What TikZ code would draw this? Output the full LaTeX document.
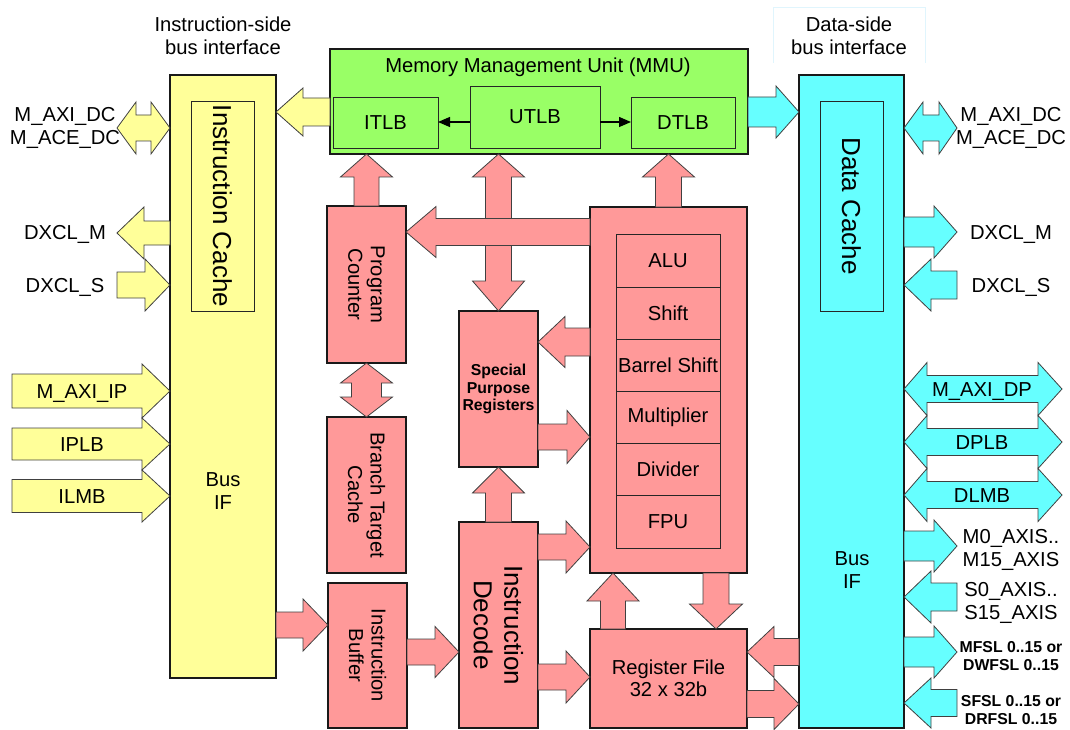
\documentclass[tikz,border=0pt]{standalone}
\usepackage{fontspec}
\setmainfont{Liberation Sans}
\usetikzlibrary{arrows.meta,calc}

\definecolor{yel}{HTML}{FFFF99}
\definecolor{grn}{HTML}{99FF66}
\definecolor{cyn}{HTML}{66FFFF}
\definecolor{pnk}{HTML}{FF9999}

% rectangular block given by its corners (x1,y1)-(x2,y2)
\newcommand\blk[7]{\node[#2, minimum width={(#5-#3)*1pt}, minimum height={(#6-#4)*1pt}] (#1) at ({(#3+#5)/2},{(#4+#6)/2}) {#7};}

% horizontal block arrow: style, tail, tip, direction (1 right, -1 left), head length, shaft half width, head half width
\newcommand\harrow[7]{\path[#1] let \p1=#2, \p2=#3 in
  (\x1,{\y2+#6pt}) -- ({\x2-(#4)*#5pt},{\y2+#6pt}) -- ({\x2-(#4)*#5pt},{\y2+#7pt}) -- (\x2,\y2)
  -- ({\x2-(#4)*#5pt},{\y2-#7pt}) -- ({\x2-(#4)*#5pt},{\y2-#6pt}) -- (\x1,{\y2-#6pt}) -- cycle;}

% horizontal double block arrow: style, left tip, right tip, left head length, right head length, shaft half, head half
\newcommand\dharrow[7]{\path[#1] let \p1=#2, \p2=#3 in
  (\x1,\y2) -- ({\x1+#4pt},{\y2+#7pt}) -- ({\x1+#4pt},{\y2+#6pt}) -- ({\x2-#5pt},{\y2+#6pt})
  -- ({\x2-#5pt},{\y2+#7pt}) -- (\x2,\y2) -- ({\x2-#5pt},{\y2-#7pt}) -- ({\x2-#5pt},{\y2-#6pt})
  -- ({\x1+#4pt},{\y2-#6pt}) -- ({\x1+#4pt},{\y2-#7pt}) -- cycle;}

% vertical block arrow: style, tail, tip, direction (1 up, -1 down), head length, shaft half, head half
\newcommand\varrow[7]{\path[#1] let \p1=#2, \p2=#3 in
  ({\x1+#6pt},\y1) -- ({\x1+#6pt},{\y2-(#4)*#5pt}) -- ({\x1+#7pt},{\y2-(#4)*#5pt}) -- (\x1,\y2)
  -- ({\x1-#7pt},{\y2-(#4)*#5pt}) -- ({\x1-#6pt},{\y2-(#4)*#5pt}) -- ({\x1-#6pt},\y1) -- cycle;}

% vertical double block arrow: style, top tip, bottom tip, top head length, bottom head length, shaft half, head half
\newcommand\dvarrow[7]{\path[#1] let \p1=#2, \p2=#3 in
  (\x1,\y1) -- ({\x1+#7pt},{\y1-#4pt}) -- ({\x1+#6pt},{\y1-#4pt}) -- ({\x1+#6pt},{\y2+#5pt})
  -- ({\x1+#7pt},{\y2+#5pt}) -- (\x1,\y2) -- ({\x1-#7pt},{\y2+#5pt}) -- ({\x1-#6pt},{\y2+#5pt})
  -- ({\x1-#6pt},{\y1-#4pt}) -- ({\x1-#7pt},{\y1-#4pt}) -- cycle;}

\tikzset{
  every node/.style={font=\fontsize{20.2}{22.5}\selectfont, inner sep=0pt, outer sep=0pt, align=center},
  bigbox/.style={draw=black!90, line width=1.8pt},
  thinbox/.style={draw=black!85, line width=0.9pt},
  lbl/.style={text height=14.5pt, text depth=0pt},
  bigtxt/.style={font=\fontsize{26}{30.5}\selectfont},
  smallbold/.style={font=\bfseries\fontsize{15.8}{17.5}\selectfont},
  ya/.style={fill=yel, draw=black!75, line width=0.8pt},
  ca/.style={fill=cyn, draw=black!75, line width=0.8pt},
  pa/.style={fill=pnk, draw=black!75, line width=0.8pt},
  tlbarrow/.style={draw=black, line width=1.3pt, -{Triangle[length=12pt,width=10pt]}},
}

\begin{document}
\begin{tikzpicture}[x=1pt, y=-1pt]
\useasboundingbox (0,0) rectangle (1070,730);

% ---------- instruction-side bus interface ----------
\node (isidelbl) at (223,36) {Instruction-side\\bus interface};
\blk{ibus}{bigbox,fill=yel}{170}{75}{276}{678}{}
\blk{icache}{thinbox,fill=yel}{191}{101}{254}{311}{}
\node[rotate=-90, bigtxt] (icachetxt) at (icache) {Instruction Cache};
\node (ibusif) at (223,491) {Bus\\IF};

% ---------- data-side bus interface ----------
\draw[cyan!12, line width=0.7pt] (773,63) -- (773,7) -- (925,7) -- (925,63);
\node (dsidelbl) at (849,36) {Data-side\\bus interface};
\blk{dbus}{bigbox,fill=cyn}{799}{75}{904}{728}{}
\blk{dcache}{thinbox,fill=cyn}{820}{101}{883}{311}{}
\node[rotate=-90, bigtxt] (dcachetxt) at (dcache) {Data Cache};
\node (dbusif) at (852,570) {Bus\\IF};

% ---------- memory management unit ----------
\blk{mmu}{bigbox,fill=grn}{330}{49}{748}{154}{}
\node (mmutitle) at (538,67) {Memory Management Unit (MMU)};
\blk{itlb}{thinbox,fill=grn}{333}{97}{438}{148}{ITLB}
\blk{utlb}{thinbox,fill=grn}{470}{86}{600}{148}{UTLB}
\blk{dtlb}{thinbox,fill=grn}{631}{97}{735}{148}{DTLB}
\draw[tlbarrow] (utlb.west |- 0,122) -- (itlb.east |- 0,122);
\draw[tlbarrow] (utlb.east |- 0,122) -- (dtlb.west |- 0,122);

% ---------- pipeline blocks ----------
\blk{pc}{bigbox,fill=pnk}{327}{206}{406}{363}{}
\node[rotate=-90] (pctxt) at (pc) {Program\\Counter};
\blk{btc}{bigbox,fill=pnk}{327}{417}{406}{573}{}
\node[rotate=-90] (btctxt) at (btc) {Branch Target\\Cache};
\blk{ib}{bigbox,fill=pnk}{328}{583}{407}{728}{}
\node[rotate=-90] (ibtxt) at (ib) {Instruction\\Buffer};
\blk{spr}{bigbox,fill=pnk,smallbold}{459}{311}{538}{467}{Special\\Purpose\\Registers}
\blk{id}{bigbox,fill=pnk}{459}{522}{538}{728}{}
\node[rotate=-90, bigtxt] (idtxt) at (id) {Instruction\\Decode};
\blk{exu}{bigbox,fill=pnk}{590}{207}{747}{573}{}
\blk{alu}{thinbox,fill=pnk}{616}{234}{720}{287}{ALU}
\blk{shift}{thinbox,fill=pnk}{616}{287}{720}{339}{Shift}
\blk{barrel}{thinbox,fill=pnk}{616}{339}{720}{391}{Barrel Shift}
\blk{mult}{thinbox,fill=pnk}{616}{391}{720}{443}{Multiplier}
\blk{divd}{thinbox,fill=pnk}{616}{443}{720}{495}{Divider}
\blk{fpu}{thinbox,fill=pnk}{616}{495}{720}{548}{FPU}
\blk{rf}{bigbox,fill=pnk}{590}{629}{747}{728}{Register File\\32 x 32b}

% ---------- instruction-side ports ----------
\harrow{ya}{(mmu.west |- 0,112)}{(ibus.east |- 0,112)}{-1}{27}{14}{24}
\coordinate (pAxiDcL) at (117,128);
\dharrow{ya}{(pAxiDcL)}{(ibus.west |- pAxiDcL)}{19}{19}{13}{26}
\coordinate (pDxclMi) at (117,233);
\harrow{ya}{(ibus.west |- pDxclMi)}{(pDxclMi)}{-1}{27}{12}{26}
\coordinate (pDxclSi) at (117,285);
\harrow{ya}{(pDxclSi)}{(ibus.west |- pDxclSi)}{1}{25}{13}{26}
\coordinate (pAxiIp) at (12,391);
\harrow{ya}{(pAxiIp)}{(ibus.west |- pAxiIp)}{1}{28}{17}{27}
\coordinate (pIplb) at (12,444);
\harrow{ya}{(pIplb)}{(ibus.west |- pIplb)}{1}{28}{16}{26}
\coordinate (pIlmb) at (12,496);
\harrow{ya}{(pIlmb)}{(ibus.west |- pIlmb)}{1}{28}{16.5}{26}

\node (lAxiDcL) at (65,128) {M\_AXI\_DC\\M\_ACE\_DC};
\node[lbl] (lDxclMi) at (65,232) {DXCL\_M};
\node[lbl] (lDxclSi) at (65,285) {DXCL\_S};
\node[lbl] (lAxiIp) at (82,391) {M\_AXI\_IP};
\node[lbl] (lIplb) at (82,444) {IPLB};
\node[lbl] (lIlmb) at (82,496) {ILMB};

% ---------- data-side ports ----------
\harrow{ca}{(mmu.east |- 0,112)}{(dbus.west |- 0,112)}{1}{23}{15}{26}
\coordinate (pAxiDcR) at (957,128);
\dharrow{ca}{(dbus.east |- pAxiDcR)}{(pAxiDcR)}{19}{18}{13}{26}
\coordinate (pDxclMd) at (957,232);
\harrow{ca}{(dbus.east |- pDxclMd)}{(pDxclMd)}{1}{23}{15}{26}
\coordinate (pDxclSd) at (957,285);
\harrow{ca}{(pDxclSd)}{(dbus.east |- pDxclSd)}{-1}{27}{14}{26}
\coordinate (pAxiDp) at (1062,389);
\dharrow{ca}{(dbus.east |- pAxiDp)}{(pAxiDp)}{23}{24}{13.5}{26.5}
\coordinate (pDplb) at (1062,442);
\dharrow{ca}{(dbus.east |- pDplb)}{(pDplb)}{23}{24}{13.5}{26.5}
\coordinate (pDlmb) at (1062,495);
\dharrow{ca}{(dbus.east |- pDlmb)}{(pDlmb)}{23}{24}{13.5}{26.5}
\coordinate (pMaxis) at (957,546);
\harrow{ca}{(dbus.east |- pMaxis)}{(pMaxis)}{1}{23}{15}{26}
\coordinate (pSaxis) at (957,597);
\harrow{ca}{(pSaxis)}{(dbus.east |- pSaxis)}{-1}{27}{14}{26}
\coordinate (pMfsl) at (957,652);
\harrow{ca}{(dbus.east |- pMfsl)}{(pMfsl)}{1}{23}{15}{26}
\coordinate (pSfsl) at (957,703);
\harrow{ca}{(pSfsl)}{(dbus.east |- pSfsl)}{-1}{27}{13.5}{25}

\node (lAxiDcR) at (1011,128) {M\_AXI\_DC\\M\_ACE\_DC};
\node[lbl] (lDxclMd) at (1011,232) {DXCL\_M};
\node[lbl] (lDxclSd) at (1011,285) {DXCL\_S};
\node[lbl] (lAxiDp) at (982,389) {M\_AXI\_DP};
\node[lbl] (lDplb) at (982,442) {DPLB};
\node[lbl] (lDlmb) at (982,495) {DLMB};
\node (lMaxis) at (1011,550) {M0\_AXIS..\\M15\_AXIS};
\node (lSaxis) at (1011,603) {S0\_AXIS..\\S15\_AXIS};
\node[smallbold] (lMfsl) at (1011,656) {MFSL 0..15 or\\DWFSL 0..15};
\node[smallbold] (lSfsl) at (1011,710) {SFSL 0..15 or\\DRFSL 0..15};

% ---------- internal data paths ----------
\harrow{pa}{(ibus.east |- 0,625)}{(ib.west |- 0,625)}{1}{25}{13}{26}
\varrow{pa}{(pc.north)}{(pc.north |- mmu.south)}{1}{23}{12.5}{26}
\dvarrow{pa}{(spr.north |- mmu.south)}{(spr.north)}{23}{30}{13}{26}
\harrow{pa}{(exu.west |- 0,232)}{(pc.east |- 0,232)}{-1}{30}{13.5}{25.5}
\varrow{pa}{(exu.north)}{(exu.north |- mmu.south)}{1}{23}{13}{26}
\dvarrow{pa}{(pc.south)}{(btc.north)}{20}{20}{15}{26}
\harrow{pa}{(exu.west |- 0,342)}{(spr.east |- 0,342)}{-1}{27}{14}{25.5}
\harrow{pa}{(spr.east |- 0,437)}{(exu.west |- 0,437)}{1}{23}{13}{26.5}
\varrow{pa}{(id.north)}{(spr.south)}{1}{26}{13}{26}
\harrow{pa}{(ib.east |- 0,652)}{(id.west |- 0,652)}{1}{24}{13}{25.5}
\harrow{pa}{(id.east |- 0,547)}{(exu.west |- 0,547)}{1}{24}{13}{26}
\harrow{pa}{(id.east |- 0,677)}{(rf.west |- 0,677)}{1}{24}{13}{26}
\coordinate (rfup) at ($(rf.north west)+(23,0)$);
\varrow{pa}{(rfup)}{(rfup |- exu.south)}{1}{28}{12.5}{26}
\coordinate (exdn) at ($(exu.south east)+(-31,0)$);
\varrow{pa}{(exdn)}{(exdn |- rf.north)}{-1}{25}{13}{26.5}
\harrow{pa}{(dbus.west |- 0,652)}{(rf.east |- 0,652)}{-1}{27}{13.5}{25.5}
\harrow{pa}{(rf.east |- 0,704)}{(dbus.west |- 0,704)}{1}{25}{13.5}{25.5}
\end{tikzpicture}
\end{document}
